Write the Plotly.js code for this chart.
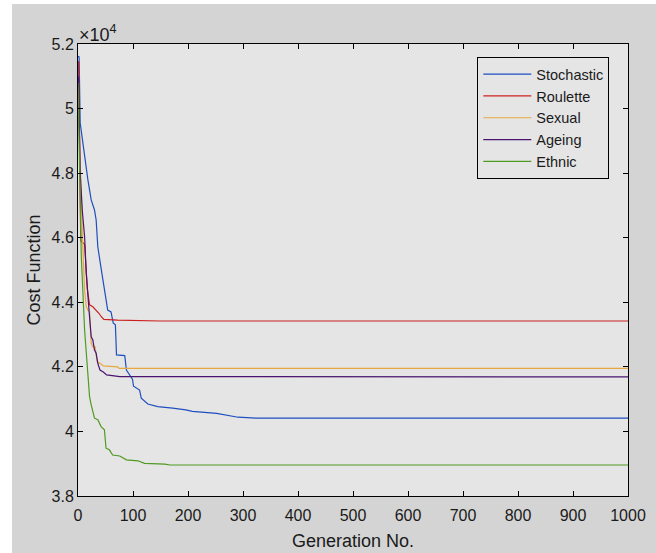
<!DOCTYPE html>
<html>
<head>
<meta charset="utf-8">
<script src="https://cdn.plot.ly/plotly-3.0.1.min.js"></script>
<style>
  html, body { margin: 0; padding: 0; background: #ffffff; width: 656px; height: 553px; overflow: hidden; }
  #plot { position: absolute; left: 12px; top: 4px; width: 644px; height: 549px; }
</style>
</head>
<body>
<div id="plot"></div>
<script>
// Data
const seriesNames = ['Stochastic', 'Roulette', 'Sexual', 'Ageing', 'Ethnic'];

const stochasticGen = [0, 2, 4, 8, 12, 18, 24, 30, 33, 36, 42, 48, 54, 60, 64, 68, 70, 85, 88, 99, 101, 112, 115, 127, 145, 172, 196, 208, 252, 291, 324, 400, 1000];
const stochasticVal = [51620, 51600, 49550, 49030, 48400, 47790, 47170, 46860, 46550, 45720, 45050, 44430, 43760, 43700, 43360, 43300, 42370, 42350, 41900, 41620, 41400, 41280, 41030, 40850, 40770, 40720, 40670, 40620, 40560, 40440, 40410, 40410, 40410];

const rouletteGen = [0, 1, 5, 9, 12, 17, 21, 27, 33, 38, 42, 47, 72, 149, 1000];
const rouletteVal = [51450, 51450, 45900, 45850, 45800, 44420, 43920, 43860, 43760, 43660, 43560, 43470, 43450, 43420, 43420];

const sexualGen = [0, 2, 6, 8, 12, 15, 18, 21, 24, 27, 31, 35, 40, 46, 72, 75, 1000];
const sexualVal = [50700, 49500, 47170, 46030, 44380, 43870, 43760, 43710, 42730, 42620, 42620, 42160, 42110, 42030, 42000, 41950, 41950];

const ageingGen = [0, 1, 4, 8, 12, 15, 20, 24, 27, 30, 33, 36, 40, 46, 52, 76, 1000];
const ageingVal = [51000, 50900, 48000, 46800, 46030, 44900, 43760, 42930, 42830, 42520, 42420, 42110, 41900, 41840, 41750, 41700, 41690];

const ethnicGen = [0, 2, 6, 12, 18, 21, 24, 30, 36, 42, 48, 51, 57, 63, 76, 88, 109, 121, 158, 167, 1000];
const ethnicVal = [50800, 49000, 45410, 43140, 41590, 41080, 40820, 40410, 40360, 40150, 40050, 39480, 39430, 39270, 39240, 39120, 39090, 39010, 38990, 38960, 38960];

const yTickVals = [38000, 40000, 42000, 44000, 46000, 48000, 50000, 52000];
const yTickText = ['3.8', '4', '4.2', '4.4', '4.6', '4.8', '5', '5.2'];
const xTickVals = [0, 100, 200, 300, 400, 500, 600, 700, 800, 900, 1000];

const colors = ['#1f4fbf', '#cc2020', '#e6a840', '#4a1470', '#4f9a22'];
const gens = [stochasticGen, rouletteGen, sexualGen, ageingGen, ethnicGen];
const vals = [stochasticVal, rouletteVal, sexualVal, ageingVal, ethnicVal];

const FONT = 'Liberation Sans, Arial, Helvetica, sans-serif';

const traces = seriesNames.map((name, i) => ({
  type: 'scatter',
  mode: 'lines',
  name: name,
  x: gens[i],
  y: vals[i],
  line: { color: colors[i], width: 1.2 }
}));

const axisCommon = {
  showline: true, linecolor: '#000', linewidth: 1, mirror: 'ticks',
  ticks: 'inside', ticklen: 5, tickcolor: '#000', tickwidth: 1,
  showgrid: false, zeroline: false,
  tickfont: { family: FONT, size: 16, color: '#1a1a1a' }
};

const layout = {
  width: 644, height: 549,
  paper_bgcolor: '#d4d4d4',
  plot_bgcolor: '#e5e5e5',
  margin: { l: 66, r: 28, t: 40, b: 57 },
  showlegend: true,
  xaxis: Object.assign({}, axisCommon, {
    range: [0, 1000],
    tickvals: xTickVals,
    ticklabelstandoff: 5,
    title: { text: 'Generation No.', font: { family: FONT, size: 18, color: '#1a1a1a' }, standoff: 11 }
  }),
  yaxis: Object.assign({}, axisCommon, {
    range: [38000, 52000],
    tickvals: yTickVals,
    ticktext: yTickText,
    title: { text: 'Cost Function', font: { family: FONT, size: 18, color: '#1a1a1a' }, standoff: 6 }
  }),
  legend: {
    x: 0.726, y: 0.971, xanchor: 'left', yanchor: 'top',
    bgcolor: '#e5e5e5', bordercolor: '#000', borderwidth: 1,
    font: { family: FONT, size: 14.5, color: '#1a1a1a' },
    itemwidth: 48,
    tracegroupgap: 0
  },
  annotations: [{
    xref: 'paper', yref: 'paper', x: 0, y: 1, xanchor: 'left', yanchor: 'bottom',
    text: '×10<sup>4</sup>', showarrow: false,
    font: { family: FONT, size: 18, color: '#1a1a1a' }, xshift: -1, yshift: -3
  }]
};

Plotly.newPlot('plot', traces, layout, { displayModeBar: false, staticPlot: true });
</script>
</body>
</html>
